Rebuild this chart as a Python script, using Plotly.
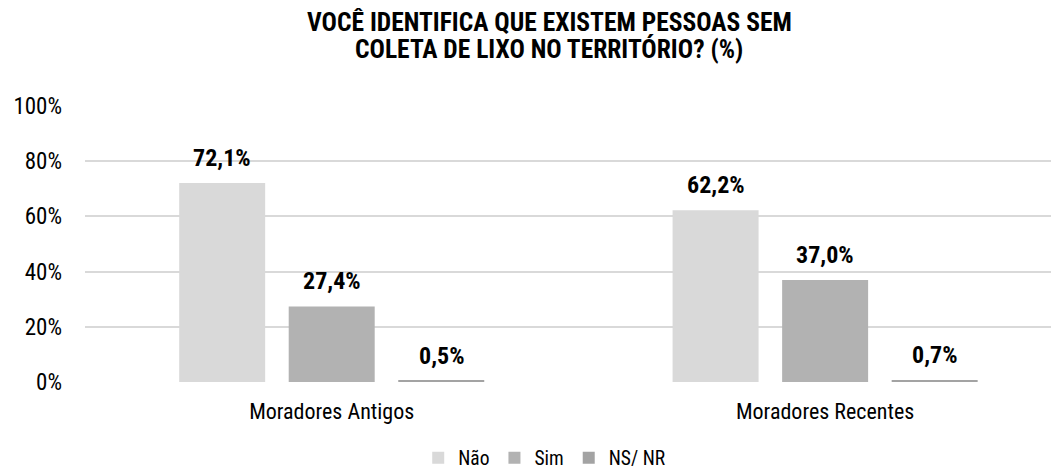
import plotly.graph_objects as go

categories = ["Moradores Antigos", "Moradores Recentes"]
series_names = ["Não", "Sim", "NS/ NR"]
nao = [72.1, 62.2]
sim = [27.4, 37.0]
nsnr = [0.5, 0.7]
colors = ["#D9D9D9", "#B2B2B2", "#A3A3A3"]
title_lines = ["VOCÊ IDENTIFICA QUE EXISTEM PESSOAS SEM", "COLETA DE LIXO NO TERRITÓRIO? (%)"]

FONT = "Liberation Sans Narrow, Roboto Condensed, Arial Narrow, sans-serif"

# page has an 8px body margin; size the figure so it fits the window
W, H = 1051, 465
ML, MR, MT, MB = 77, 0, 98, 91
X_RANGE = [-0.5, 1.474]
BARGAP, BARGROUPGAP = 0.334, 0.215


def fmt(v):
    return f"{v:.1f}%".replace(".", ",")


fig = go.Figure()
all_series = [nao, sim, nsnr]
for name, vals, col in zip(series_names, all_series, colors):
    fig.add_trace(go.Bar(
        x=categories, y=vals, name=name,
        marker=dict(color=col, line=dict(width=0)),
    ))

# value labels above each bar (positioned through the axes)
plot_w = W - ML - MR
cat_w = plot_w / (X_RANGE[1] - X_RANGE[0])
slot = (1 - BARGAP) * cat_w / len(all_series)
for i, vals in enumerate(all_series):
    for cat, v in zip(categories, vals):
        fig.add_annotation(
            x=cat, y=v, xref="x", yref="y", text=fmt(v), showarrow=False,
            xanchor="center", yanchor="bottom",
            xshift=(i - 1) * slot, yshift=9,
            font=dict(family=FONT, size=24, color="#000000", weight="bold"),
        )

# title (two lines)
plot_h = H - MT - MB
for line, ypix in zip(title_lines, [14, 41]):
    fig.add_annotation(
        text=line, xref="paper", yref="paper",
        x=(541 - ML) / plot_w, y=1 + (MT - ypix) / plot_h,
        xanchor="center", yanchor="middle", showarrow=False,
        font=dict(family=FONT, size=25.5, color="#000000", weight="bold"),
    )

fig.update_layout(
    width=W, height=H,
    paper_bgcolor="white", plot_bgcolor="white",
    margin=dict(l=ML, r=MR, t=MT, b=MB, autoexpand=False),
    barmode="group", bargap=BARGAP, bargroupgap=BARGROUPGAP,
    font=dict(family=FONT, color="#000000"),
    xaxis=dict(range=X_RANGE, showgrid=False, showline=False, zeroline=False,
               automargin=False, ticks="", ticklabelstandoff=14,
               tickfont=dict(family=FONT, size=22, color="#000000")),
    yaxis=dict(range=[0, 100], dtick=20, ticksuffix="%", showgrid=True,
               automargin=False,
               gridcolor="#D9D9D9", gridwidth=1.7, zeroline=False, showline=False,
               ticks="", ticklabelstandoff=22,
               tickfont=dict(family=FONT, size=23, color="#000000")),
    legend=dict(orientation="h", x=0.472, xanchor="center",
                y=(MT + plot_h - 450) / plot_h, yanchor="middle",
                font=dict(family=FONT, size=19.5, color="#000000"), itemwidth=30,
                traceorder="normal"),
    showlegend=True,
)

fig.write_html("out.html")
